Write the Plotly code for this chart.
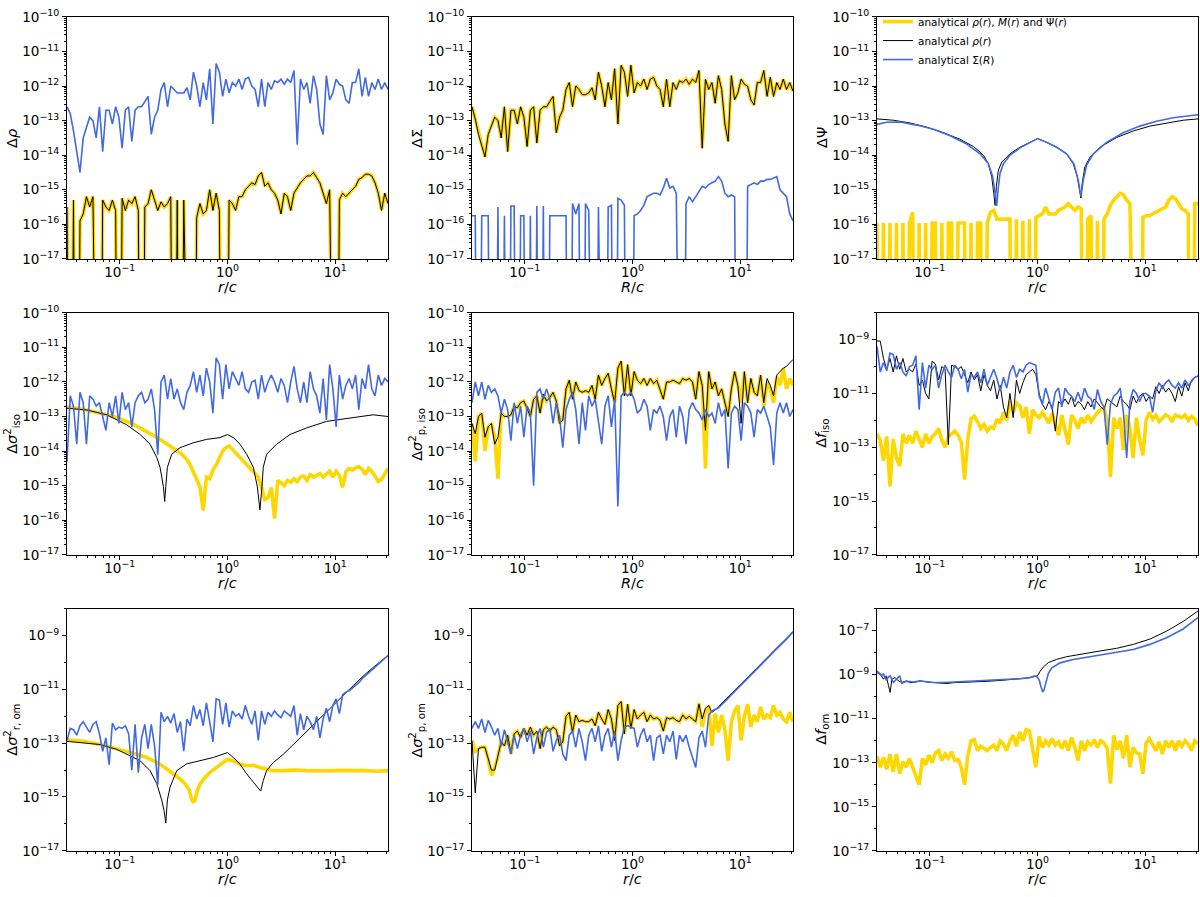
import numpy as np
import plotly.graph_objects as go

# shared sampling grid (r/c or R/c) of the numerical profiles
r = np.logspace(-1.49, 1.49, 100)
Z = None  # difference is exactly zero at that radius

# ---- Delta rho ----
drho_full = [
    -15.5, Z, -15.3, Z, -15.9, -15.7, -15.2, -15.5, -15.2, Z,
    Z, -15.3, -15.5, -15.6, -15.3, -15.6, Z, -15.25, -15.6, -15.3,
    -15.4, -15.2, -15.6, Z, -15.5, -15.4, -15.0, -15.3, -15.6, -15.35,
    -15.5, -15.4, -15.2, Z, -15.3, Z, -15.3, Z, Z, Z,
    -15.8, -15.4, -15.7, -15.6, -15.0, -15.6, -15.1, -15.6, Z, Z,
    -15.3, -15.4, -15.6, -15.2, -15.2, -15.0, -14.9, -14.8, -14.85, -14.6,
    -14.5, -14.9, -14.8, -15.0, -15.1, -15.3, -15.7, -15.1, -15.2, -15.6,
    -15.1, -14.95, -14.8, -14.7, -14.6, -14.6, -14.5, -14.65, -14.8, -15.1,
    -15.4, -15.0, Z, Z, -15.3, -15.1, -15.2, -15.1, -15.0, -14.9,
    -14.7, -14.65, -14.55, -14.55, -14.6, -14.8, -15.1, -15.6, -15.1, -15.4]
drho_sigma = [
    -12.6, -12.8, -13.3, -13.9, -14.5, -13.5, -13.2, -12.9, -13.0, -13.5,
    -12.6, -13.9, -12.7, -12.7, -13.1, -12.6, -12.9, -13.8, -12.7, -12.6,
    -13.6, -12.7, -12.6, -12.6, -12.45, -12.3, -13.4, -12.9, -12.7, -12.1,
    -11.9, -12.6, -12.0, -12.1, -12.2, -12.2, -12.2, -12.05, -12.4, -11.6,
    -12.0, -12.6, -11.9, -12.4, -11.5, -13.1, -11.35, -11.6, -12.3, -11.8,
    -12.2, -11.9, -12.0, -11.8, -12.1, -11.8, -11.75, -12.0, -12.1, -12.6,
    -11.8, -12.6, -11.9, -12.1, -11.85, -11.9, -11.8, -11.95, -11.8, -11.9,
    -11.55, -13.7, -11.8, -12.1, -11.9, -12.5, -11.7, -12.1, -13.1, -13.4,
    -11.7, -12.4, -12.2, -11.8, -11.95, -12.0, -12.4, -12.5, -11.9, -11.9,
    -11.5, -12.3, -11.75, -12.3, -11.9, -12.1, -11.8, -12.1, -11.9, -12.1]

# ---- Delta Sigma ----
dsig_full = [
    -12.6, -12.95, -13.4, -13.7, -14.05, -13.4, -13.15, -12.9, -13.0, -13.5,
    -12.6, -13.9, -12.7, -12.7, -13.1, -12.6, -12.9, -13.75, -12.7, -12.6,
    -13.65, -12.7, -12.6, -12.6, -12.45, -12.3, -13.35, -12.9, -12.7, -12.1,
    -11.9, -12.6, -12.0, -12.1, -12.25, -12.25, -12.2, -12.05, -12.4, -11.6,
    -12.0, -12.6, -11.9, -12.4, -11.5, -13.1, -11.4, -11.6, -12.3, -11.4,
    -12.2, -11.9, -12.0, -11.8, -12.1, -11.8, -11.75, -12.0, -12.1, -12.6,
    -11.8, -12.6, -11.9, -12.1, -11.85, -11.9, -11.8, -11.95, -11.8, -11.9,
    -11.55, -13.8, -11.8, -12.1, -11.9, -12.5, -11.7, -12.1, -13.1, -13.6,
    -11.7, -12.4, -12.2, -11.8, -11.95, -12.0, -12.4, -12.55, -11.9, -11.9,
    -11.55, -12.3, -11.75, -12.3, -11.9, -12.1, -11.8, -12.1, -11.9, -12.15]
dsig_sigma = [
    -15.75, -15.75, Z, -15.75, -15.75, -15.75, Z, Z, -15.5, Z,
    -15.75, Z, -15.47, -15.47, Z, -15.75, -15.75, Z, -15.75, Z,
    -15.47, Z, -15.47, Z, -15.75, -15.75, -15.75, -15.75, -15.75, -15.75,
    Z, -15.4, -15.7, -15.4, Z, -15.4, -15.6, Z, Z, -15.5,
    Z, Z, -15.5, -15.45, Z, -15.25, -15.3, -15.45, Z, Z,
    -15.75, -15.7, -15.6, -15.45, -15.2, -15.15, -15.1, -15.1, -15.15, -14.95,
    -14.67, -14.95, -14.9, -15.1, Z, Z, -15.4, -15.2, -15.35, -15.2,
    -15.05, -14.9, -14.95, -14.85, -14.8, -14.75, -14.62, -14.75, -15.1, -15.2,
    -15.15, -15.2, Z, Z, Z, -14.9, -14.85, -14.8, -14.85, -14.75,
    -14.75, -14.7, -14.7, -14.65, -14.62, -15.0, -15.1, -15.2, -15.7, -15.9]

# ---- Delta Psi ----
dpsi_full = [
    -15.96, Z, -15.96, Z, -15.96, Z, -15.96, Z, -15.96, Z,
    -15.96, -15.65, Z, -15.96, Z, -15.96, Z, -15.96, -15.96, Z,
    -15.96, Z, -15.96, -15.96, Z, -15.96, -15.96, -15.96, Z, -15.96,
    Z, -15.96, -15.96, Z, -15.96, -15.65, -15.6, -15.85, -15.85, -15.85,
    -15.85, -15.85, Z, -15.85, Z, -15.9, Z, -15.85, Z, -15.8,
    -15.75, -15.7, -15.5, -15.7, -15.7, -15.7, -15.6, -15.55, -15.5, -15.4,
    -15.5, -15.6, -15.5, -15.55, Z, -15.85, -15.75, Z, -15.9, Z,
    -15.85, -15.7, -15.45, -15.3, -15.2, -15.1, -15.15, -15.3, -15.4, Z,
    Z, Z, -15.8, -15.75, -15.75, -15.7, -15.65, -15.6, -15.55, -15.5,
    -15.3, -15.2, -15.25, -15.4, -15.55, -15.6, -15.7, Z, -15.4, -15.4]
psi_rho_lr = [-1.49, -1.337, -1.182, -1.028, -0.873, -0.719, -0.595, -0.502, -0.456,
              -0.425, -0.406, -0.394, -0.382, -0.363, -0.332, -0.255, -0.162, -0.07,
              0.0, 0.085, 0.178, 0.27, 0.332, 0.369, 0.394, 0.403, 0.415, 0.44,
              0.487, 0.58, 0.734, 0.889, 1.043, 1.198, 1.352, 1.49]
psi_rho_lv = [-12.95, -12.99, -13.07, -13.19, -13.35, -13.54, -13.75, -14.0, -14.25,
              -14.62, -15.1, -15.45, -14.9, -14.43, -14.2, -13.96, -13.77, -13.63,
              -13.52, -13.63, -13.77, -13.96, -14.25, -14.62, -15.1, -15.24, -14.81, -14.34,
              -14.06, -13.77, -13.49, -13.3, -13.16, -13.07, -12.99, -12.95]
psi_sig_lr = [-1.49, -1.40, -1.275, -1.12, -0.966, -0.811, -0.657, -0.533, -0.456,
              -0.416, -0.394, -0.379, -0.366, -0.348, -0.317, -0.255, -0.162, 0.0,
              0.085, 0.178, 0.27, 0.338, 0.378, 0.403, 0.425, 0.456, 0.518, 0.641,
              0.796, 0.95, 1.105, 1.26, 1.49]
psi_sig_lv = [-13.11, -13.05, -13.04, -13.13, -13.25, -13.44, -13.68, -13.96, -14.25,
              -14.62, -15.1, -15.47, -15.0, -14.53, -14.25, -14.0, -13.79, -13.52,
              -13.63, -13.77, -13.96, -14.25, -14.72, -15.19, -14.72, -14.29, -13.96, -13.63,
              -13.35, -13.16, -13.02, -12.92, -12.83]

# ---- Delta sigma^2 iso ----
s2iso_full = [
    -12.72, -12.73, -12.74, -12.75, -12.77, -12.79, -12.81, -12.83, -12.85, -12.87,
    -12.89, -12.91, -12.94, -12.96, -12.99, -13.02, -13.05, -13.08, -13.12, -13.16,
    -13.20, -13.25, -13.30, -13.35, -13.40, -13.45, -13.50, -13.56, -13.62, -13.68,
    -13.74, -13.80, -13.86, -13.92, -13.98, -14.06, -14.15, -14.25, -14.40, -14.60,
    -14.85, -15.03, -15.72, -14.75, -14.80, -14.55, -14.4, -14.2, -14.0, -13.9,
    -13.85, -13.95, -14.05, -14.15, -14.25, -14.35, -14.45, -14.55, -14.65, -14.75,
    -15.05, -15.4, -15.35, -15.05, -15.95, -14.85, -14.92, -15.0, -14.85, -14.9,
    -14.8, -14.88, -14.75, -14.72, -14.85, -14.68, -14.75, -14.7, -14.65, -14.75,
    -14.65, -14.58, -14.75, -14.58, -14.7, -15.05, -14.6, -14.5, -14.55, -14.48,
    -14.45, -14.52, -14.68, -14.5, -14.58, -14.75, -14.88, -14.82, -14.65, -14.5]
s2iso_rho_lr = [-1.49, -1.306, -1.121, -0.935, -0.811, -0.719, -0.657, -0.626, -0.595,
                -0.583, -0.573, -0.558, -0.518, -0.44, -0.317, -0.193, -0.07, 0.0,
                0.054, 0.116, 0.178, 0.24, 0.277, 0.301, 0.32, 0.332, 0.363, 0.456,
                0.58, 0.734, 0.92, 1.105, 1.29, 1.352, 1.49]
s2iso_rho_lv = [-12.76, -12.81, -12.95, -13.24, -13.52, -13.80, -14.18, -14.47, -15.03,
                -15.46, -15.03, -14.47, -14.09, -13.90, -13.76, -13.66, -13.61, -13.52,
                -13.61, -13.80, -14.09, -14.47, -15.03, -15.70, -15.03, -14.47, -14.09, -13.80,
                -13.52, -13.33, -13.14, -13.05, -12.97, -12.95, -13.0]
s2iso_sigma = [
    -14.3, -12.4, -12.7, -13.8, -12.3, -12.6, -13.8, -12.4, -12.5, -12.7,
    -12.6, -13.0, -13.4, -12.6, -13.0, -12.4, -13.2, -12.3, -12.8, -12.6,
    -13.3, -12.6, -12.4, -12.3, -12.6, -12.5, -12.2, -12.8, -14.1, -12.0,
    -11.8, -12.5, -11.9, -12.5, -12.2, -12.6, -12.8, -12.3, -12.1, -11.7,
    -12.3, -11.8, -12.4, -11.6, -12.0, -12.9, -11.3, -11.5, -12.5, -11.5,
    -12.2, -11.7, -11.9, -12.1, -11.7, -12.2, -12.3, -12.0, -11.95, -12.5,
    -11.8, -12.3, -12.0, -11.8, -12.0, -12.3, -11.9, -12.1, -12.6, -12.0,
    -11.55, -12.2, -12.6, -12.0, -12.6, -11.7, -12.2, -12.4, -12.9, -11.9,
    -13.1, -11.5, -12.2, -13.3, -11.8, -12.5, -12.1, -11.9, -12.2, -11.8,
    -12.8, -11.9, -12.2, -11.5, -12.2, -12.4, -11.8, -12.1, -11.9, -12.0]

# ---- Delta sigma^2 p,iso ----
s2piso_full = [
    -13.2, -14.3, -13.0, -12.9, -14.0, -13.3, -13.2, -13.6, -14.8, -12.9,
    -13.0, -13.0, -12.95, -12.7, -12.75, -12.6, -12.55, -12.8, -13.0, -12.5,
    -12.4, -12.9, -12.35, -12.55, -12.45, -12.3, -12.55, -13.2, -13.1, -12.2,
    -11.95, -12.5, -12.0, -12.25, -12.3, -12.25, -12.3, -12.1, -12.5, -11.8,
    -12.1, -11.9, -11.75, -12.2, -12.6, -11.6, -11.4, -12.4, -11.5, -12.4,
    -11.7, -11.95, -12.05, -11.9, -12.1, -11.9, -12.05, -11.95, -12.2, -12.5,
    -12.0, -12.0, -11.95, -12.0, -12.05, -11.9, -11.95, -11.9, -12.0, -12.5,
    -11.7, -12.1, -14.5, -11.7, -12.2, -12.0, -12.4, -12.2, -12.6, -13.0,
    -12.2, -11.7, -12.1, -12.6, -11.7, -12.6, -11.9, -12.3, -12.4, -11.8,
    -12.7, -12.0, -12.2, -12.6, -11.85, -12.1, -11.6, -12.2, -11.9, -12.1]
s2piso_rho = [
    -13.2, -13.5, -13.0, -12.9, -13.6, -13.3, -13.2, -13.8, -13.6, -12.9,
    -13.0, -13.0, -12.95, -12.7, -12.75, -12.6, -12.55, -12.8, -13.0, -12.5,
    -12.4, -12.9, -12.35, -12.55, -12.45, -12.3, -12.55, -13.2, -13.1, -12.2,
    -11.95, -12.5, -12.0, -12.25, -12.3, -12.25, -12.3, -12.1, -12.5, -11.8,
    -12.1, -11.9, -11.75, -12.2, -12.6, -11.6, -11.4, -12.4, -11.5, -12.4,
    -11.7, -11.95, -12.05, -11.9, -12.1, -11.9, -12.05, -11.95, -12.2, -12.5,
    -12.0, -12.0, -11.95, -12.0, -12.05, -11.9, -11.95, -11.9, -12.0, -12.5,
    -11.7, -12.1, -13.4, -11.7, -12.2, -12.0, -12.4, -12.2, -12.6, -13.0,
    -12.2, -11.7, -12.1, -13.2, -11.7, -12.6, -11.9, -12.3, -12.4, -11.8,
    -12.6, -11.9, -12.1, -12.4, -11.8, -11.7, -11.6, -11.55, -11.45, -11.35]
s2piso_sigma = [
    -12.6, -12.0, -12.4, -12.0, -12.5, -12.1, -12.3, -12.2, -12.4, -12.9,
    -12.5, -12.8, -13.7, -12.6, -13.2, -12.7, -13.6, -12.7, -12.9, -15.0,
    -12.3, -12.2, -12.5, -12.2, -12.5, -13.2, -12.6, -13.0, -13.9, -12.8,
    -12.5, -12.3, -12.8, -13.8, -12.6, -13.4, -12.4, -12.7, -12.5, -13.1,
    -13.8, -12.7, -12.4, -13.3, -12.5, -15.6, -12.4, -12.3, -12.4, -12.3,
    -12.5, -12.9, -12.8, -12.5, -12.7, -13.4, -12.8, -12.9, -12.7, -13.0,
    -13.7, -13.0, -12.8, -13.6, -12.7, -13.0, -13.8, -12.8, -12.6, -12.8,
    -12.9, -13.1, -12.8, -13.0, -12.9, -13.2, -12.6, -13.0, -12.8, -14.5,
    -12.9, -12.7, -12.8, -13.7, -12.6, -12.7, -12.9, -13.6, -12.8, -12.9,
    -12.7, -13.0, -13.3, -14.4, -12.9, -12.6, -12.9, -12.6, -13.0, -12.8]

# ---- Delta f iso ----
fiso_full = [
    -12.5, -12.75, -13.5, -12.6, -14.45, -12.7, -13.4, -13.7, -12.5, -12.85,
    -12.55, -12.85, -12.4, -12.75, -13.0, -12.5, -12.85, -12.6, -12.5, -12.3,
    -12.75, -13.0, -12.6, -12.5, -12.4, -12.55, -12.8, -14.2, -12.7, -11.95,
    -11.85, -12.05, -12.3, -12.15, -12.4, -12.25, -12.3, -11.95, -12.1, -11.7,
    -12.0, -11.3, -11.7, -11.35, -11.45, -11.9, -11.5, -12.5, -11.6, -11.8,
    -11.9, -11.7, -11.9, -12.1, -11.75, -12.2, -12.55, -11.8, -12.4, -12.9,
    -11.8, -12.0, -12.3, -11.9, -12.1, -11.8, -12.05, -11.85, -11.7, -11.6,
    -11.55, -12.0, -14.1, -11.9, -12.3, -11.9, -13.1, -11.8, -12.3, -13.4,
    -11.9, -12.7, -13.3, -12.0, -11.7, -11.95, -11.8, -12.05, -11.9, -11.8,
    -11.85, -12.05, -11.8, -11.85, -11.9, -11.8, -12.0, -11.85, -11.95, -12.2]
fiso_rho = [
    -9.05, -9.05, -9.7, -10.1, -9.7, -10.2, -9.6, -10.1, -9.7, -10.2,
    -10.1, -10.2, -9.9, -10.7, -10.5, -11.0, -11.2, -9.8, -9.9, -10.5,
    -10.0, -10.1, -12.9, -9.95, -10.0, -10.1, -10.0, -10.3, -10.6, -10.2,
    -10.5, -10.3, -10.9, -10.3, -10.7, -10.9, -10.5, -11.2, -10.7, -11.5,
    -11.9, -11.0, -11.9, -10.5, -11.0, -10.6, -10.3, -10.2, -10.1, -10.3,
    -11.0, -11.4, -11.6, -11.3, -11.5, -12.4, -11.3, -11.4, -11.2, -11.4,
    -11.1, -11.5, -11.3, -11.4, -11.6, -11.3, -11.5, -11.2, -11.35, -11.5,
    -11.6, -11.2, -11.3, -11.4, -11.5, -11.1, -11.3, -11.4, -11.6, -11.1,
    -11.35, -11.1, -11.0, -11.3, -11.1, -11.2, -10.75, -11.0, -10.7, -10.95,
    -10.8, -11.0, -11.3, -10.75, -11.1, -10.6, -10.9, -10.5, -10.4, -10.35]
fiso_sigma = [
    -9.25, -10.2, -9.85, -10.15, -9.5, -9.55, -10.1, -9.85, -10.2, -10.35,
    -10.0, -9.95, -9.6, -11.6, -9.85, -10.8, -9.95, -10.1, -9.95, -10.8,
    -10.3, -9.95, -10.2, -10.4, -9.95, -10.1, -10.45, -10.1, -10.95, -10.3,
    -10.4, -10.2, -10.6, -10.1, -10.7, -10.4, -10.1, -10.45, -10.9, -10.4,
    -10.8, -10.2, -9.95, -10.4, -10.1, -10.2, -9.95, -9.85, -9.9, -9.95,
    -11.1, -11.4, -10.8, -11.2, -11.6, -10.95, -10.8, -11.5, -10.8, -11.0,
    -11.1, -11.3, -10.95, -11.3, -10.8, -11.1, -11.2, -11.6, -10.85, -11.3,
    -11.5, -12.9, -11.4, -11.1, -11.0, -10.8, -11.7, -13.4, -11.3, -10.85,
    -11.0, -11.3, -11.0, -11.0, -11.1, -11.7, -10.9, -10.6, -10.8, -10.6,
    -10.5, -10.7, -10.8, -10.6, -10.8, -10.5, -10.7, -10.55, -10.4, -10.35]

# ---- Delta sigma^2 r,om ----
s2rom_full_lr = [-1.49, -1.337, -1.182, -1.059, -0.935, -0.842, -0.75, -0.688, -0.626,
                 -0.564, -0.502, -0.44, -0.394, -0.354, -0.332, -0.317, -0.301, -0.280,
                 -0.255, -0.209, -0.162, -0.1, -0.039, 0.0, 0.054, 0.116, 0.178, 0.24,
                 0.301, 0.363, 0.425, 0.518, 0.611, 0.734, 0.827, 0.92, 1.043, 1.167,
                 1.29, 1.383, 1.49]
s2rom_full_lv = [-12.87, -12.93, -13.05, -13.17, -13.29, -13.41, -13.53, -13.65, -13.78,
                 -13.96, -14.14, -14.33, -14.51, -14.75, -15.12, -15.18, -15.12, -14.75,
                 -14.51, -14.27, -14.08, -13.9, -13.72, -13.6, -13.66, -13.78, -13.84, -13.82,
                 -13.9, -13.96, -14.02, -14.02, -14.0, -14.02, -14.04, -14.03, -14.01, -14.0,
                 -14.02, -14.04, -14.02]
s2rom_rho_lr = [-1.49, -1.337, -1.182, -1.028, -0.935, -0.811, -0.719, -0.657, -0.611,
                -0.589, -0.573, -0.558, -0.533, -0.471, -0.379, -0.255, -0.131, 0.0,
                0.054, 0.116, 0.178, 0.24, 0.286, 0.308, 0.332, 0.363, 0.425, 0.518,
                0.611, 0.703, 0.796, 0.92, 1.043, 1.167, 1.26, 1.368, 1.49]
s2rom_rho_lv = [-12.93, -12.99, -13.05, -13.23, -13.41, -13.65, -14.02, -14.5, -15.11,
                -15.5, -15.97, -15.11, -14.63, -14.02, -13.77, -13.65, -13.53, -13.35,
                -13.53, -13.78, -14.14, -14.45, -14.69, -14.78, -14.39, -14.02, -13.72, -13.41,
                -13.05, -12.68, -12.32, -11.83, -11.35, -10.86, -10.5, -10.13, -9.74]
s2rom_sigma = [
    -12.9, -12.45, -12.5, -12.7, -12.35, -12.2, -12.4, -12.6, -12.3, -12.2,
    -12.65, -13.3, -12.8, -13.8, -12.25, -12.5, -12.4, -12.45, -12.35, -12.65,
    -14.0, -12.3, -14.1, -12.8, -12.3, -13.2, -12.3, -13.1, -14.55, -11.85,
    -12.2, -12.0, -12.25, -11.9, -12.6, -12.2, -13.3, -12.1, -12.35, -11.6,
    -12.1, -11.75, -12.35, -11.5, -12.2, -12.95, -11.35, -11.4, -12.3, -11.5,
    -12.4, -11.8, -12.0, -11.9, -12.1, -11.6, -12.0, -12.3, -11.8, -12.9,
    -11.8, -12.3, -11.85, -12.0, -11.8, -11.95, -12.05, -11.8, -11.9, -12.0,
    -11.6, -12.7, -11.9, -12.5, -12.0, -12.2, -12.5, -12.0, -12.8, -12.1,
    -11.7, -12.2, -11.6, -11.35, -11.9, -11.2, -11.1, -11.05, -10.95, -10.85,
    -10.75, -10.6, -10.5, -10.4, -10.28, -10.17, -10.06, -9.95, -9.84, -9.74]

# ---- Delta sigma^2 p,om ----
s2pom_full = [
    -12.9, -13.3, -13.2, -13.15, -13.15, -13.6, -14.2, -13.9, -13.5, -12.95,
    -13.1, -12.7, -13.4, -12.65, -12.55, -12.8, -12.45, -12.7, -12.4, -12.7,
    -12.55, -13.2, -12.5, -12.4, -12.55, -12.4, -12.5, -13.1, -12.95, -12.0,
    -11.85, -12.6, -11.95, -12.2, -12.15, -12.2, -12.2, -12.1, -12.35, -11.85,
    -12.1, -12.3, -11.75, -12.1, -12.9, -11.6, -11.45, -12.65, -11.55, -12.45,
    -11.75, -12.1, -11.95, -11.85, -12.2, -11.95, -12.1, -12.05, -12.15, -12.55,
    -12.05, -12.1, -12.05, -12.15, -12.2, -11.95, -12.1, -12.0, -12.1, -12.2,
    -11.5, -12.4, -11.8, -11.6, -13.1, -11.9, -12.6, -11.95, -12.5, -13.65,
    -12.2, -11.8, -11.6, -12.9, -12.0, -11.55, -12.4, -11.95, -12.2, -11.65,
    -12.1, -11.95, -12.05, -11.6, -11.95, -11.85, -12.1, -12.2, -11.85, -12.2]
s2pom_rho = [
    -12.9, -14.85, -13.2, -13.15, -13.15, -13.6, -14.0, -14.0, -13.5, -12.95,
    -13.1, -12.7, -13.4, -12.65, -12.55, -12.8, -12.45, -12.7, -12.4, -12.7,
    -12.55, -13.2, -12.5, -12.4, -12.55, -12.4, -12.5, -13.1, -12.95, -12.0,
    -11.85, -12.6, -11.95, -12.2, -12.15, -12.2, -12.2, -12.1, -12.35, -11.85,
    -12.1, -12.3, -11.75, -12.1, -12.9, -11.6, -11.45, -12.65, -11.55, -12.45,
    -11.75, -12.1, -11.95, -11.85, -12.2, -11.95, -12.1, -12.05, -12.15, -12.55,
    -12.05, -12.1, -12.05, -12.15, -12.2, -11.95, -12.1, -12.0, -12.1, -12.2,
    -11.55, -12.1, -11.7, -11.6, -11.85, -11.77, -11.64, -11.52, -11.41, -11.28,
    -11.16, -11.03, -10.92, -10.8, -10.67, -10.55, -10.43, -10.31, -10.19, -10.06,
    -9.94, -9.82, -9.7, -9.57, -9.46, -9.33, -9.21, -9.1, -8.97, -8.85]
s2pom_sigma = [
    -12.45, -12.2, -12.45, -12.1, -12.6, -12.15, -12.4, -12.7, -12.45, -13.1,
    -12.5, -13.0, -13.4, -12.7, -13.2, -12.7, -12.45, -12.95, -12.55, -13.4,
    -12.8, -12.45, -13.15, -12.6, -12.45, -13.3, -12.9, -12.7, -13.4, -13.65,
    -12.7, -12.55, -13.15, -12.45, -12.95, -13.65, -12.7, -12.45, -12.95, -12.35,
    -13.3, -12.7, -12.45, -13.15, -12.55, -13.65, -12.9, -12.4, -12.35, -12.4,
    -12.45, -13.15, -12.7, -12.45, -12.95, -12.7, -13.65, -12.8, -12.7, -13.4,
    -12.7, -12.95, -12.55, -13.6, -12.7, -12.95, -12.7, -13.15, -13.5, -13.9,
    -12.8, -12.55, -13.15, -11.95, -11.8, -11.75, -11.68, -11.57, -11.46, -11.33,
    -11.2, -11.08, -10.97, -10.85, -10.72, -10.6, -10.48, -10.36, -10.23, -10.1,
    -9.98, -9.86, -9.74, -9.61, -9.5, -9.37, -9.25, -9.13, -9.0, -8.87]

# ---- Delta f om ----
fom_full = [
    -12.7, -13.2, -12.75, -13.3, -12.6, -13.4, -12.6, -13.5, -12.95, -13.2,
    -12.8, -13.2, -13.6, -14.0, -12.8, -13.1, -12.65, -13.0, -12.55, -12.45,
    -12.9, -12.6, -12.8, -12.5, -12.9, -12.85, -13.2, -14.0, -12.7, -12.0,
    -11.95, -12.45, -12.25, -12.35, -12.45, -12.3, -12.2, -12.45, -12.0, -12.15,
    -12.45, -12.0, -11.75, -12.25, -11.6, -12.0, -11.5, -11.55, -12.5, -13.2,
    -11.8, -12.3, -12.0, -12.2, -11.9, -12.2, -12.05, -12.35, -12.0, -12.45,
    -11.85, -12.3, -12.9, -12.0, -12.45, -12.05, -12.2, -11.95, -12.3, -12.0,
    -12.1, -12.35, -13.95, -11.75, -12.4, -12.0, -12.8, -11.75, -13.2, -12.3,
    -12.55, -12.6, -13.5, -12.1, -11.9, -12.2, -12.45, -12.05, -12.6, -12.0,
    -12.3, -12.0, -12.45, -12.0, -12.25, -12.0, -12.15, -12.45, -12.0, -12.15]
fom_rho_lr = [-1.49, -1.461, -1.43, -1.405, -1.383, -1.368, -1.352, -1.321, -1.291,
              -1.26, -1.213, -1.182, -1.136, -1.09, -1.028, -0.966, -0.904, -0.842,
              -0.781, -0.719, -0.657, -0.564, -0.471, -0.348, -0.224, -0.1, -0.023,
              0.0, 0.023, 0.054, 0.1, 0.178, 0.27, 0.425, 0.58, 0.734, 0.889, 1.043,
              1.198, 1.352, 1.49]
fom_rho_lv = [-8.9, -8.98, -9.2, -9.05, -9.5, -9.8, -9.2, -9.13, -9.28,
              -9.35, -9.28, -9.36, -9.34, -9.28, -9.33, -9.36, -9.36, -9.4,
              -9.36, -9.35, -9.33, -9.33, -9.3, -9.26, -9.21, -9.15, -9.08,
              -9.05, -8.85, -8.65, -8.45, -8.3, -8.18, -8.04, -7.92, -7.8, -7.62, -7.38,
              -7.02, -6.58, -6.1]
fom_sig_lr = [-1.49, -1.444, -1.43, -1.405, -1.383, -1.368, -1.337, -1.306, -1.28,
              -1.26, -1.213, -1.151, -1.09, -1.028, -0.966, -0.873, -0.781, -0.657,
              -0.533, -0.41, -0.286, -0.162, -0.07, -0.023, 0.0, 0.017, 0.03, 0.048,
              0.06, 0.079, 0.1, 0.131, 0.209, 0.332, 0.456, 0.58, 0.734, 0.889, 1.043,
              1.198, 1.352, 1.49]
fom_sig_lv = [-8.83, -9.05, -8.95, -9.25, -9.1, -9.05, -9.35, -9.2, -9.05,
              -9.38, -9.3, -9.33, -9.28, -9.32, -9.35, -9.35, -9.33, -9.31,
              -9.29, -9.26, -9.23, -9.18, -9.13, -9.05, -9.12, -9.25, -9.5, -9.78,
              -9.7, -9.3, -8.95, -8.7, -8.46, -8.31, -8.2, -8.12, -7.98, -7.85, -7.62,
              -7.32, -6.92, -6.4]

legend_names = ['analytical <i>ρ</i>(<i>r</i>), <i>M</i>(<i>r</i>) and Ψ(<i>r</i>)',
                'analytical <i>ρ</i>(<i>r</i>)',
                'analytical Σ(<i>R</i>)']

GOLD, BLUE = '#FFD700', '#4169E1'
STYLE = {'full': (GOLD, 3.6), 'rho': ('black', 1), 'sig': (BLUE, 1.6)}
FONT = 'DejaVu Sans'
W, H = 1200, 897


def lin(v):
    # zeros are pushed far below the axis so the line drops straight down
    return [1e-30 if x is None else 10.0 ** x for x in v]


def knots(lr):
    return [10.0 ** x for x in lr]


RC = '<i>r</i>/<i>c</i>'
BRC = '<i>R</i>/<i>c</i>'
S2 = 'Δ<i>σ</i><sup>2</sup>'

panels = [
    dict(yt='Δ<i>ρ</i>', xt=RC, yr=(-17, -10), step=1,
         tr=[('full', r, drho_full), ('rho', r, drho_full), ('sig', r, drho_sigma)]),
    dict(yt='ΔΣ', xt=BRC, yr=(-17, -10), step=1,
         tr=[('full', r, dsig_full), ('rho', r, dsig_full), ('sig', r, dsig_sigma)]),
    dict(yt='ΔΨ', xt=RC, yr=(-17, -10), step=1,
         tr=[('full', r, dpsi_full), ('rho', knots(psi_rho_lr), psi_rho_lv),
             ('sig', knots(psi_sig_lr), psi_sig_lv)]),
    dict(yt=S2 + '<sub>iso</sub>', xt=RC, yr=(-17, -10), step=1,
         tr=[('full', r, s2iso_full), ('rho', knots(s2iso_rho_lr), s2iso_rho_lv),
             ('sig', r, s2iso_sigma)]),
    dict(yt=S2 + '<sub>p, iso</sub>', xt=BRC, yr=(-17, -10), step=1,
         tr=[('full', r, s2piso_full), ('rho', r, s2piso_rho), ('sig', r, s2piso_sigma)]),
    dict(yt='Δ<i>f</i><sub>iso</sub>', xt=RC, yr=(-17, -8), step=2,
         tr=[('full', r, fiso_full), ('rho', r, fiso_rho), ('sig', r, fiso_sigma)]),
    dict(yt=S2 + '<sub>r, om</sub>', xt=RC, yr=(-17, -8), step=2,
         tr=[('full', knots(s2rom_full_lr), s2rom_full_lv),
             ('rho', knots(s2rom_rho_lr), s2rom_rho_lv), ('sig', r, s2rom_sigma)]),
    dict(yt=S2 + '<sub>p, om</sub>', xt=RC, yr=(-17, -8), step=2,
         tr=[('full', r, s2pom_full), ('rho', r, s2pom_rho), ('sig', r, s2pom_sigma)]),
    dict(yt='Δ<i>f</i><sub>om</sub>', xt=RC, yr=(-17, -6), step=2,
         tr=[('full', r, fom_full), ('rho', knots(fom_rho_lr), fom_rho_lv),
             ('sig', knots(fom_sig_lr), fom_sig_lv)]),
]

cols = [(67, 388), (472, 793), (877, 1198)]
rows = [(7, 254), (309, 556), (611, 858)]


def pow_label(e):
    return '10<sup>%s%d</sup>' % ('−' if e < 0 else '', abs(e))


x_major = [0.1, 1, 10]
x_minor = [m * 10.0 ** d for d in (-2, -1, 0, 1) for m in range(2, 10)
           if 0.032 < m * 10.0 ** d < 31]
title_font = dict(family=FONT, size=14.5, color='black')

fig = go.Figure()
layout = {}
notes = []
for k, p in enumerate(panels):
    row, col = divmod(k, 3)
    n = '' if k == 0 else str(k + 1)
    xa, ya = 'x' + n, 'y' + n
    for kind, xs, vals in p['tr']:
        color, width = STYLE[kind]
        fig.add_trace(go.Scatter(
            x=xs, y=lin(vals), mode='lines', xaxis=xa, yaxis=ya,
            line=dict(color=color, width=width),
            name=legend_names[['full', 'rho', 'sig'].index(kind)],
            showlegend=(k == 2), hoverinfo='skip'))

    lo, hi = p['yr']
    if p['step'] == 1:
        ymaj = list(range(lo, hi + 1))
        ymin = [m * 10.0 ** e for e in range(lo, hi) for m in range(2, 10)]
    else:
        ymaj = list(range(lo, hi + 1, 2))
        ymin = [10.0 ** e for e in range(lo + 1, hi + 1, 2)]

    x0, x1 = cols[col]
    y0, y1 = rows[row]
    common = dict(showline=True, mirror=True, linecolor='black', linewidth=1,
                  ticks='outside', ticklen=4, tickwidth=1, tickcolor='black',
                  showgrid=False, zeroline=False, type='log',
                  tickfont=dict(family=FONT, size=13.5, color='black'))
    layout['xaxis' + n] = dict(
        common, domain=[x0 / W, x1 / W], range=[-1.49, 1.49], anchor=ya,
        tickmode='array', tickvals=x_major, ticktext=[pow_label(e) for e in (-1, 0, 1)],
        ticklabelstandoff=-3,
        minor=dict(tickmode='array', tickvals=x_minor, ticks='outside', ticklen=2.5,
                   tickcolor='black', showgrid=False))
    layout['yaxis' + n] = dict(
        common, domain=[1 - y1 / H, 1 - y0 / H], range=[lo, hi], anchor=xa,
        tickmode='array', tickvals=[10.0 ** e for e in ymaj],
        ticktext=[pow_label(e) for e in ymaj],
        minor=dict(tickmode='array', tickvals=ymin, ticks='outside', ticklen=2.5,
                   tickcolor='black', showgrid=False))

    # axis titles placed where matplotlib put them
    notes.append(dict(text=p['xt'], xref='paper', yref='paper',
                      x=(x0 + x1) / 2 / W, y=1 - (y1 + 29) / H,
                      xanchor='center', yanchor='middle', showarrow=False,
                      font=title_font))
    notes.append(dict(text=p['yt'], xref='paper', yref='paper',
                      x=(x0 - 55) / W, y=1 - (y0 + y1) / 2 / H, textangle=-90,
                      xanchor='center', yanchor='middle', showarrow=False,
                      font=title_font))

fig.update_layout(**layout)
fig.update_layout(
    width=W, height=H, margin=dict(l=0, r=0, t=0, b=0),
    paper_bgcolor='white', plot_bgcolor='white',
    font=dict(family=FONT, size=13, color='black'),
    annotations=notes,
    legend=dict(x=878 / W, y=1 + 3 / H, xanchor='left', yanchor='top',
                bgcolor='rgba(255,255,255,0)', font=dict(family=FONT, size=10.5),
                itemwidth=30, tracegroupgap=0),
)

# drop the browser's default body margin so the page is exactly the figure
fig.write_html("out.html", config={'displayModeBar': False},
               post_script="document.body.style.margin='0';"
                           "document.documentElement.style.overflow='hidden';")
